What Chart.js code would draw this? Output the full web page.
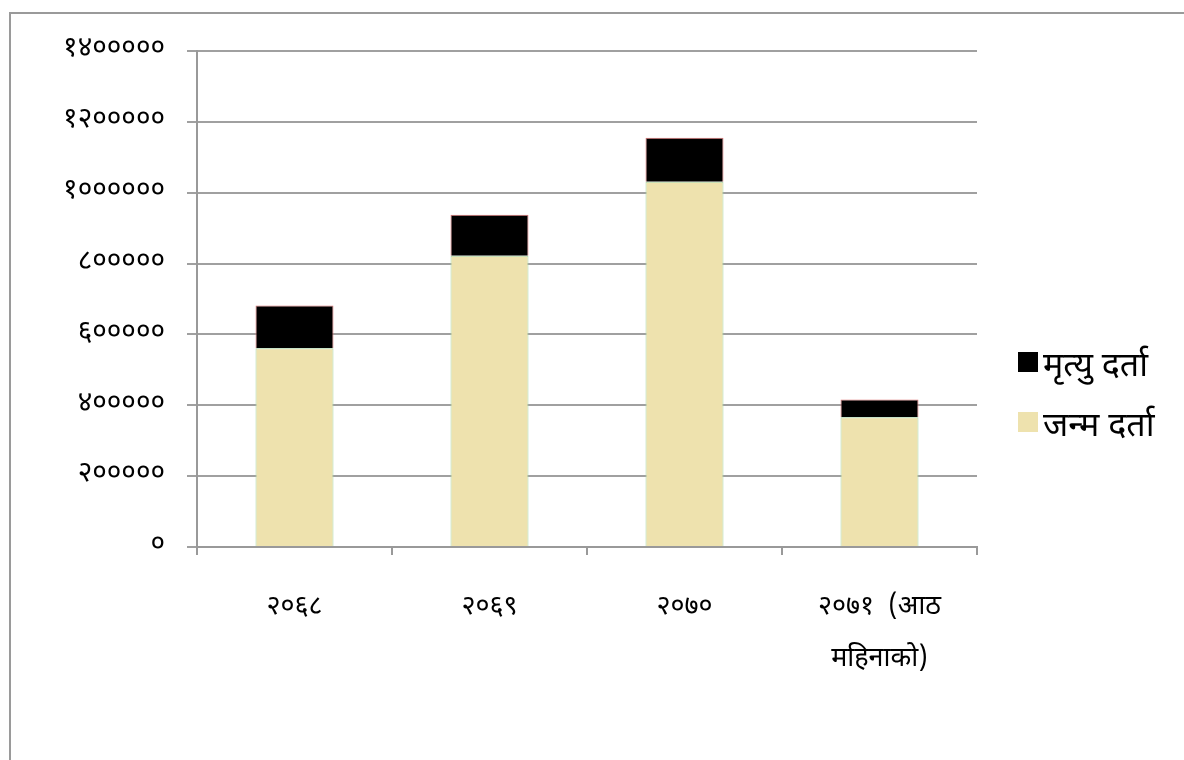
<!DOCTYPE html>
<html>
<head>
<meta charset="utf-8">
<script src="https://cdn.jsdelivr.net/npm/chart.js@4"></script>
<style>
  html, body { margin: 0; padding: 0; background: #fff; }
  #wrap { position: relative; width: 1184px; height: 760px; overflow: hidden; }
  #frame { position: absolute; left: 9px; top: 12px; width: 1300px; height: 900px; border: 2px solid #9a9a9a; }
  canvas { position: absolute; left: 0; top: 0; }
</style>
</head>
<body>
<div id="wrap">
  <div id="frame"></div>
  <canvas id="chart" width="1184" height="760"></canvas>
</div>
<script>
const years = ['२०६८', '२०६९', '२०७०', ['२०७१  (आठ', 'महिनाको)']];
const births = [561000, 822000, 1031000, 366000];
const deaths = [121000, 116000, 124000, 50000];
const yTicks = [0, 200000, 400000, 600000, 800000, 1000000, 1200000, 1400000];

const devaDigits = '०१२३४५६७८९';
const toDeva = n => String(n).replace(/[0-9]/g, d => devaDigits[d]);
const fontFamily = '"Noto Sans Devanagari", "Noto Sans", sans-serif';

// legend drawn by hand so it sits where the original one is
const sideLegend = {
    id: 'sideLegend',
    afterDraw(chart) {
        const c = chart.ctx;
        const items = [...chart.data.datasets].reverse();
        c.save();
        c.font = '34px ' + fontFamily;
        c.textBaseline = 'middle';
        items.forEach((ds, i) => {
            const y = 362 + i * 60;
            c.fillStyle = ds.backgroundColor;
            c.fillRect(1018, y - 10, 20, 20);
            c.fillStyle = '#000';
            c.fillText(ds.label, 1043, y + 8);
        });
        c.restore();
    }
};

new Chart(document.getElementById('chart'), {
    type: 'bar',
    data: {
        labels: years,
        datasets: [
            { label: 'जन्म दर्ता', data: births, backgroundColor: '#EEE2AE', borderColor: '#A8D8A8', borderWidth: 1 },
            { label: 'मृत्यु दर्ता', data: deaths, backgroundColor: '#000000', borderColor: '#E07070', borderWidth: 1 }
        ]
    },
    options: {
        responsive: false,
        animation: false,
        events: [],
        layout: { padding: { top: 51, right: 207, bottom: 0, left: 0 } },
        datasets: { bar: { barPercentage: 0.4, categoryPercentage: 1 } },
        plugins: { legend: { display: false }, tooltip: { enabled: false } },
        scales: {
            x: {
                stacked: true,
                grid: { drawOnChartArea: false, color: '#999', lineWidth: 2, tickLength: 8 },
                border: { color: '#999', width: 2 },
                ticks: { color: '#000', padding: 28, font: { family: fontFamily, size: 27, lineHeight: 1.92 }, maxRotation: 0 },
                afterFit: s => { s.height = 760 - 547; }
            },
            y: {
                stacked: true,
                min: 0,
                max: 1400000,
                afterBuildTicks: s => { s.ticks = yTicks.map(v => ({ value: v })); },
                grid: { color: '#a0a0a0', lineWidth: 2, tickLength: 10 },
                border: { color: '#999', width: 2 },
                ticks: { color: '#000', padding: 22, font: { family: fontFamily, size: 28 }, callback: v => toDeva(v) },
                afterFit: s => { s.width = 197; }
            }
        }
    },
    plugins: [sideLegend]
});
</script>
</body>
</html>
